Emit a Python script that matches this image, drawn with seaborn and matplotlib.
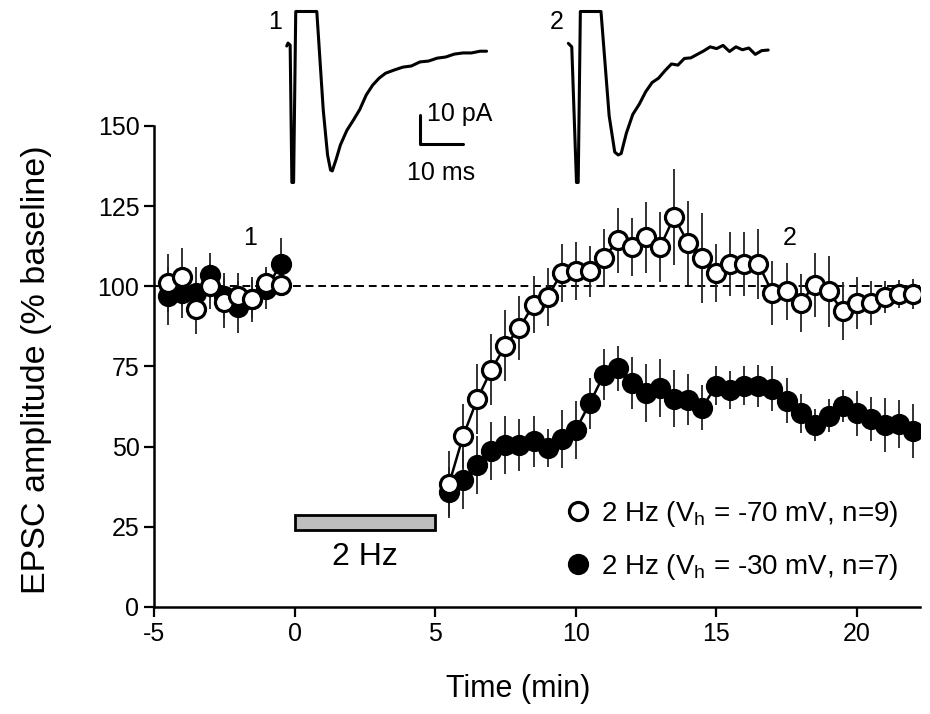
import numpy as np
import pandas as pd
import matplotlib
matplotlib.use("Agg")
import matplotlib.pyplot as plt
import seaborn as sns
from matplotlib.lines import Line2D
from matplotlib.patches import Rectangle

# ------------------------------------------------------------------
# data
# ------------------------------------------------------------------
# baseline, -5..0 min
T_BASE = [-4.5, -4.0, -3.5, -3.0, -2.5, -2.0, -1.5, -1.0, -0.5]
OPEN_BASE = [101, 103, 93, 100, 95, 97, 96, 101, 100.5]
OPEN_BASE_SEM = [9, 9, 8, 7, 8, 7, 6, 5, 3]
FILLED_BASE = [97, 98, 98, 103.5, 97, 93.5, 96, 99, 107]
FILLED_BASE_SEM = [9, 8, 8, 7, 7, 8, 7, 6, 8]

# after 2 Hz stimulation
T_POST = [5.5, 6.0, 6.5, 7.0, 7.5, 8.0, 8.5, 9.0, 9.5, 10.0, 10.5, 11.0,
          11.5, 12.0, 12.5, 13.0, 13.5, 14.0, 14.5, 15.0, 15.5, 16.0, 16.5,
          17.0, 17.5, 18.0, 18.5, 19.0, 19.5, 20.0, 20.5, 21.0, 21.5, 22.0]
OPEN_POST = [38.5, 53.4, 64.8, 74, 81.5, 87, 94.3, 96.6, 104.2, 104.7, 104.7,
             108.8, 114.3, 112.2, 115.3, 112.2, 121.6, 113.5, 108.8, 104.2,
             107, 107, 107, 97.9, 98.4, 94.8, 100.5, 98.4, 92.2, 94.8, 94.8,
             96.6, 97.6, 97.6]
OPEN_POST_SEM = [10, 10, 11, 11, 11, 10, 9, 9, 9, 9, 8, 9, 10, 9, 11, 11, 15,
                 13, 14, 9, 10, 10, 11, 10, 9, 9, 10, 11, 9, 8, 7, 5, 4.5, 4.7]
FILLED_POST = [35.7, 39.6, 44.3, 48.6, 50.5, 50.5, 51.6, 49.5, 52.4, 55.2,
               63.5, 72.4, 74.5, 69.8, 66.7, 68.2, 65, 64.6, 62.2, 69, 67.7,
               69, 69, 68, 64.3, 60.4, 56.8, 59.7, 62.8, 60.4, 58.6, 56.8, 57,
               54.9]
FILLED_POST_SEM = [8, 9, 9, 9, 9, 8, 8, 6, 9, 9, 8, 8, 7, 8, 9, 9, 9, 8, 7, 6,
                   6, 6, 6.5, 7, 7, 6, 5, 5, 5, 7, 7, 8.5, 7.5, 8.5]

LABELS = ["2 Hz (V$_\\mathregular{h}$ = -70 mV, n=9)",
          "2 Hz (V$_\\mathregular{h}$ = -30 mV, n=7)"]

# example EPSC traces (ms, pA); artifact clipped at +11 / -48
TR1_T = [0, 0.3, 0.8, 1.2, 1.6, 2.1, 7.0, 8.5, 9.5, 10.2, 10.6, 11.5, 12.5,
         14, 15.5, 17, 18.5, 20, 21.5, 23, 25, 27, 29, 31, 33, 35, 37, 39, 41,
         43, 45, 46.5]
TR1_I = [-0.9, 0.1, -0.6, -48, -48, 11, 11, -23, -38.5, -43.7, -44, -40, -35,
         -30, -26.5, -22.8, -17.8, -14.4, -12, -10.3, -9.2, -8.2, -7.8, -6.4,
         -6.1, -5.1, -4.7, -3.7, -3.3, -3.3, -2.7, -2.7]
TR2_T = [0, 0.8, 1.9, 2.3, 2.8, 7.6, 9.5, 10.8, 11.6, 12.3, 13.5, 15, 16.5,
         18, 19.5, 21, 22.5, 24, 25.5, 27, 28.5, 30, 31.5, 33, 34.5, 36, 37.5,
         39, 40.5, 42, 43.5, 45, 46.5]
TR2_I = [0, -1.2, -48, -48, 11, 11, -25, -37.5, -38.5, -38, -31, -24.5, -21,
         -16.7, -13.5, -12, -9.4, -7.1, -7.5, -5.2, -5.0, -3.8, -2.6, -1.2,
         -1.8, -0.7, -2.8, -1.2, -2.2, -1.6, -3.8, -2.5, -2.3]

# ------------------------------------------------------------------
sns.set_style("ticks")
plt.rcParams["font.family"] = ["Liberation Sans", "DejaVu Sans"]
plt.rcParams["mathtext.fontset"] = "custom"
plt.rcParams["mathtext.rm"] = "Liberation Sans"
plt.rcParams["axes.unicode_minus"] = False
for k in ["text.color", "axes.labelcolor", "xtick.color", "ytick.color",
          "axes.edgecolor"]:
    plt.rcParams[k] = "black"

fig = plt.figure(figsize=(9.3, 7.14), dpi=100)
ax = fig.add_axes([0.1656, 0.1499, 0.8237, 0.6737])

ax.axhline(100, color="black", ls=(0, (4, 2.5)), lw=1.4, zorder=0.5)

MS = 13
MEW = 2.3


def draw_series(t, y, sem, face):
    ax.errorbar(t, y, yerr=sem, fmt="none", ecolor="#222222",
                elinewidth=1.3, capsize=0, zorder=1)
    sns.lineplot(x=t, y=y, ax=ax, color="black", lw=1.8, sort=False,
                 marker="o", markersize=MS, markerfacecolor=face,
                 markeredgecolor="black", markeredgewidth=MEW, zorder=3)


draw_series(T_BASE, FILLED_BASE, FILLED_BASE_SEM, "black")
draw_series(T_POST, FILLED_POST, FILLED_POST_SEM, "black")
draw_series(T_BASE, OPEN_BASE, OPEN_BASE_SEM, "white")
draw_series(T_POST, OPEN_POST, OPEN_POST_SEM, "white")

# stimulation bar
ax.add_patch(Rectangle((0, 24), 5, 4.8, facecolor="#bebebe",
                       edgecolor="black", lw=2, zorder=2))
ax.text(2.5, 15.5, "2 Hz", ha="center", va="center", fontsize=23)

ax.text(-1.6, 115, "1", ha="center", va="center", fontsize=18)
ax.text(17.6, 115, "2", ha="center", va="center", fontsize=18)

ax.set_xlim(-5, 22.25)
ax.set_ylim(0, 150)
ax.set_xticks([-5, 0, 5, 10, 15, 20])
ax.set_yticks([0, 25, 50, 75, 100, 125, 150])
ax.tick_params(labelsize=18, width=1.6, length=7, direction="out")
for s in ["left", "bottom"]:
    ax.spines[s].set_linewidth(1.8)
sns.despine(ax=ax)
ax.set_xlabel("Time (min)", fontsize=22)
ax.set_ylabel("EPSC amplitude (% baseline)", fontsize=24.5)
ax.xaxis.set_label_coords(0.475, -0.14)
ax.yaxis.set_label_coords(-0.133, 0.494)

handles = [Line2D([], [], ls="none", marker="o", ms=MS, mfc="white",
                  mec="black", mew=MEW),
           Line2D([], [], ls="none", marker="o", ms=MS, mfc="black",
                  mec="black", mew=MEW)]
ax.legend(handles, LABELS, loc="upper left", bbox_to_anchor=(0.607, 0.301),
          bbox_transform=fig.transFigure, frameon=False, fontsize=20,
          handlelength=1.0, handletextpad=0.3, labelspacing=0.82,
          borderpad=0, borderaxespad=0)

# example traces
for left, tt, ii, lab in [(0.3083, TR1_T, TR1_I, "1"),
                          (0.6111, TR2_T, TR2_I, "2")]:
    ins = fig.add_axes([left, 0.7444, 0.2172, 0.2395])
    ins.plot(tt, ii, color="black", lw=2.2, clip_on=False)
    ins.set_xlim(0, 47)
    ins.set_ylim(-48, 11)
    ins.axis("off")
    ins.text(-2.7, 7.5, lab, ha="center", va="center", fontsize=18)
    if lab == "1":
        ins.plot([31, 31, 41], [-24.7, -34.7, -34.7], color="black", lw=2.2,
                 clip_on=False)
        ins.text(32.6, -24.5, "10 pA", ha="left", va="center", fontsize=18)
        ins.text(35.9, -44.8, "10 ms", ha="center", va="center", fontsize=18)

fig.savefig("out.png", dpi=100)
